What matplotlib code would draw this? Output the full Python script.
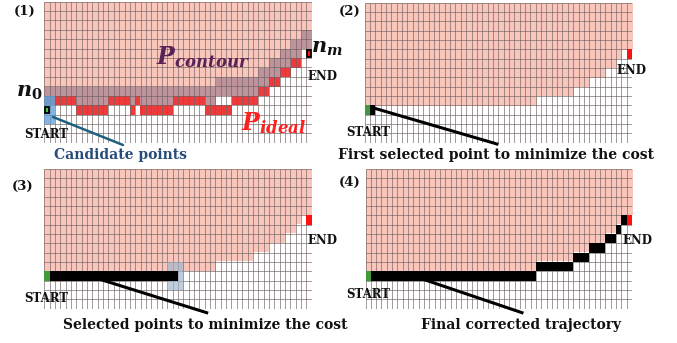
import numpy as np
import matplotlib
matplotlib.use("Agg")
import matplotlib.pyplot as plt
from matplotlib.patches import Rectangle

plt.rcParams['font.family'] = ['DejaVu Serif']
plt.rcParams['mathtext.fontset'] = 'custom'
plt.rcParams['mathtext.it'] = 'DejaVu Serif:italic:bold'
plt.rcParams['mathtext.rm'] = 'DejaVu Serif:bold'

# ---------------- data (grid cells) ----------------
N_ROWS, N_COLS = 15, 50
start_cell = (11, 0)      # (row, col)
end_cell = (5, 49)

# first free (non-obstacle) row for each column = final corrected trajectory
final_rows = [11, 11, 11, 11, 11, 11, 11, 11, 11, 11,
              11, 11, 11, 11, 11, 11, 11, 11, 11, 11,
              11, 11, 11, 11, 11, 11, 11, 11, 11, 11,
              11, 11, 10, 10, 10, 10, 10, 10, 10, 9,
              9, 9, 8, 8, 8, 7, 7, 6, 5, 5]

# panel (1): contour band (top row, bottom row) per column
contour_top = [9, 9, 9, 9, 9, 9, 9, 9, 9, 9,
               9, 9, 9, 9, 9, 9, 9, 9, 9, 9,
               9, 9, 9, 9, 9, 9, 9, 9, 9, 9,
               9, 9, 8, 8, 8, 8, 8, 8, 8, 8,
               7, 7, 6, 6, 5, 5, 4, 4, 3, 3]
contour_bot = [10, 10, 10, 10, 10, 10, 10, 10, 10, 10,
               10, 10, 10, 10, 10, 10, 10, 10, 10, 10,
               10, 10, 10, 10, 10, 10, 10, 10, 10, 10,
               10, 10, 9, 9, 9, 9, 9, 9, 9, 9,
               8, 8, 7, 7, 6, 6, 5, 5, 4, 4]
# panel (1): ideal path row per column (-1 = none)
ideal_rows = [-1, -1, 10, 10, 10, 10, 11, 11, 11, 11,
              11, 11, 10, 10, 10, 10, 11, 10, 11, 11,
              11, 11, 11, 11, 10, 10, 10, 10, 10, 10,
              11, 11, 11, 11, 11, 10, 10, 10, 10, 10,
              9, 9, 8, 8, 7, 7, 6, 6, -1, -1]

# candidate neighbourhoods (col range, row range)
cand_panel1 = ([0, 1], [10, 11, 12])
cand_panel3 = ([23, 24, 25], [10, 11, 12])
selected_panel2 = [1]                 # columns selected on start row
selected_panel3 = list(range(1, 25))  # columns selected on start row

captions = ["Candidate points",
            "First selected point to minimize the cost",
            "Selected points to minimize the cost",
            "Final corrected trajectory"]
panel_labels = ["(1)", "(2)", "(3)", "(4)"]

# ---------------- colours ----------------
PINK = np.array([250, 198, 188]) / 255
MAUVE = np.array([190, 147, 155]) / 255
RED = np.array([238, 58, 58]) / 255
GREEN = '#3f9b3a'
ENDRED = '#ff1010'
GRIDC = '#6e6262'

W, H = 677, 343
fig = plt.figure(figsize=(W / 100, H / 100), dpi=100)


def make_ax(x0, y0, x1, y1):
    ax = fig.add_axes([x0 / W, 1 - y1 / H, (x1 - x0) / W, (y1 - y0) / H])
    ax.set_xlim(0, N_COLS)
    ax.set_ylim(N_ROWS, 0)
    ax.axis('off')
    return ax


def draw_grid(ax):
    ax.vlines(np.arange(N_COLS + 1), 0, N_ROWS, color=GRIDC, lw=0.45, zorder=3)
    ax.hlines(np.arange(N_ROWS + 1), 0, N_COLS, color=GRIDC, lw=0.45, zorder=3)


def base_image(panel1=False):
    img = np.ones((N_ROWS, N_COLS, 3))
    for c in range(N_COLS):
        if panel1:
            for r in range(N_ROWS):
                if r < contour_top[c]:
                    img[r, c] = PINK
                elif r <= contour_bot[c]:
                    img[r, c] = MAUVE
            if ideal_rows[c] >= 0:
                img[ideal_rows[c], c] = RED
        else:
            for r in range(final_rows[c]):
                img[r, c] = PINK
    return img


def cells(ax, cols, rows, color, z=4, alpha=1.0, ec='none', lw=0):
    ax.bar(cols, [1] * len(cols), bottom=rows, width=1, align='edge',
           color=color, alpha=alpha, edgecolor=ec, linewidth=lw, zorder=z)


boxes = {1: (44.3, 1.7, 311.7, 142.7), 2: (364.5, 2.7, 632, 142.7),
         3: (44.3, 168.5, 311.7, 308.5), 4: (365.5, 168.5, 632, 308.5)}

axes = {}
for p in range(1, 5):
    ax = make_ax(*boxes[p])
    axes[p] = ax
    ax.imshow(base_image(panel1=(p == 1)), extent=(0, N_COLS, N_ROWS, 0),
              aspect='auto', interpolation='nearest', zorder=1)
    draw_grid(ax)

# panel 1 extras
ax = axes[1]
cc, rr = cand_panel1
cand_c = [c for c in cc for r in rr]
cand_r = [r for c in cc for r in rr]
cells(ax, cand_c, cand_r, '#5b9bd5', z=4, alpha=0.75)
ax.add_patch(Rectangle((start_cell[1] + 0.2, start_cell[0] + 0.15), 0.6, 0.7,
                       facecolor='#4fc24a', edgecolor='black', lw=1.3, zorder=6))
ax.add_patch(Rectangle((end_cell[1] + 0.15, end_cell[0] + 0.1), 0.7, 0.8,
                       facecolor=ENDRED, edgecolor='black', lw=1.3, zorder=6))

# panel 2
ax = axes[2]
cells(ax, [start_cell[1]], [start_cell[0]], GREEN, z=5)
cells(ax, selected_panel2, [start_cell[0]] * len(selected_panel2), 'black', z=5)
cells(ax, [end_cell[1]], [end_cell[0]], ENDRED, z=5)

# panel 3
ax = axes[3]
cc, rr = cand_panel3
cand_c = [c for c in cc for r in rr]
cand_r = [r for c in cc for r in rr]
cells(ax, cand_c, cand_r, '#9db4cc', z=4, alpha=0.65)
cells(ax, [start_cell[1]], [start_cell[0]], GREEN, z=5)
cells(ax, selected_panel3, [start_cell[0]] * len(selected_panel3), 'black', z=5)
cells(ax, [end_cell[1]], [end_cell[0]], ENDRED, z=5)

# panel 4
ax = axes[4]
traj_c = list(range(1, N_COLS - 1))
traj_r = [final_rows[c] for c in traj_c]
cells(ax, traj_c, traj_r, 'black', z=5)
cells(ax, [start_cell[1]], [start_cell[0]], GREEN, z=5)
cells(ax, [end_cell[1]], [end_cell[0]], ENDRED, z=5)

# ---------------- overlay text ----------------
ov = fig.add_axes([0, 0, 1, 1], zorder=10)
ov.set_xlim(0, W)
ov.set_ylim(H, 0)
ov.axis('off')
ov.patch.set_alpha(0)

bold = dict(fontweight='bold', ha='center', va='center', color='#111111')
for lab, (x, y) in zip(panel_labels, [(25, 11), (350, 11), (23, 186), (350, 182)]):
    ov.text(x, y, lab, fontsize=9.5, **bold)
for (x, y) in [(46.7, 135), (368.5, 132.5), (46, 298), (368.5, 294.5)]:
    ov.text(x, y, "START", fontsize=8.5, **bold)
for (x, y) in [(322, 76), (631, 71), (322, 241), (637, 241)]:
    ov.text(x, y, "END", fontsize=8.5, **bold)

ov.text(120, 155.5, captions[0], fontsize=10, fontweight='bold', ha='center',
        va='center', color='#264c7c')
ov.text(495.5, 155, captions[1], fontsize=10, **bold)
ov.text(205, 325, captions[2], fontsize=10, **bold)
ov.text(521, 325, captions[3], fontsize=10, **bold)

ov.text(29, 93, r'$n_0$', fontsize=15, ha='center', va='center', color='#111111')
ov.text(327, 49, r'$n_m$', fontsize=15, ha='center', va='center', color='#111111')
ov.text(203, 57, r'$P_{contour}$', fontsize=17, ha='center', va='center', color='#5a2357')
ov.text(274, 123, r'$P_{ideal}$', fontsize=17, ha='center', va='center', color='#ff1f1f')

# pointer lines
ov.plot([53, 123], [117, 145], color='#1f5f80', lw=1.8, solid_capstyle='round')
ov.plot([374.7, 497], [108.3, 144], color='black', lw=2.2)
ov.plot([96.7, 206.7], [278.3, 312.7], color='black', lw=2.2)
ov.plot([425.3, 522], [280, 312.7], color='black', lw=2.2)

fig.savefig('out.png', dpi=100)
